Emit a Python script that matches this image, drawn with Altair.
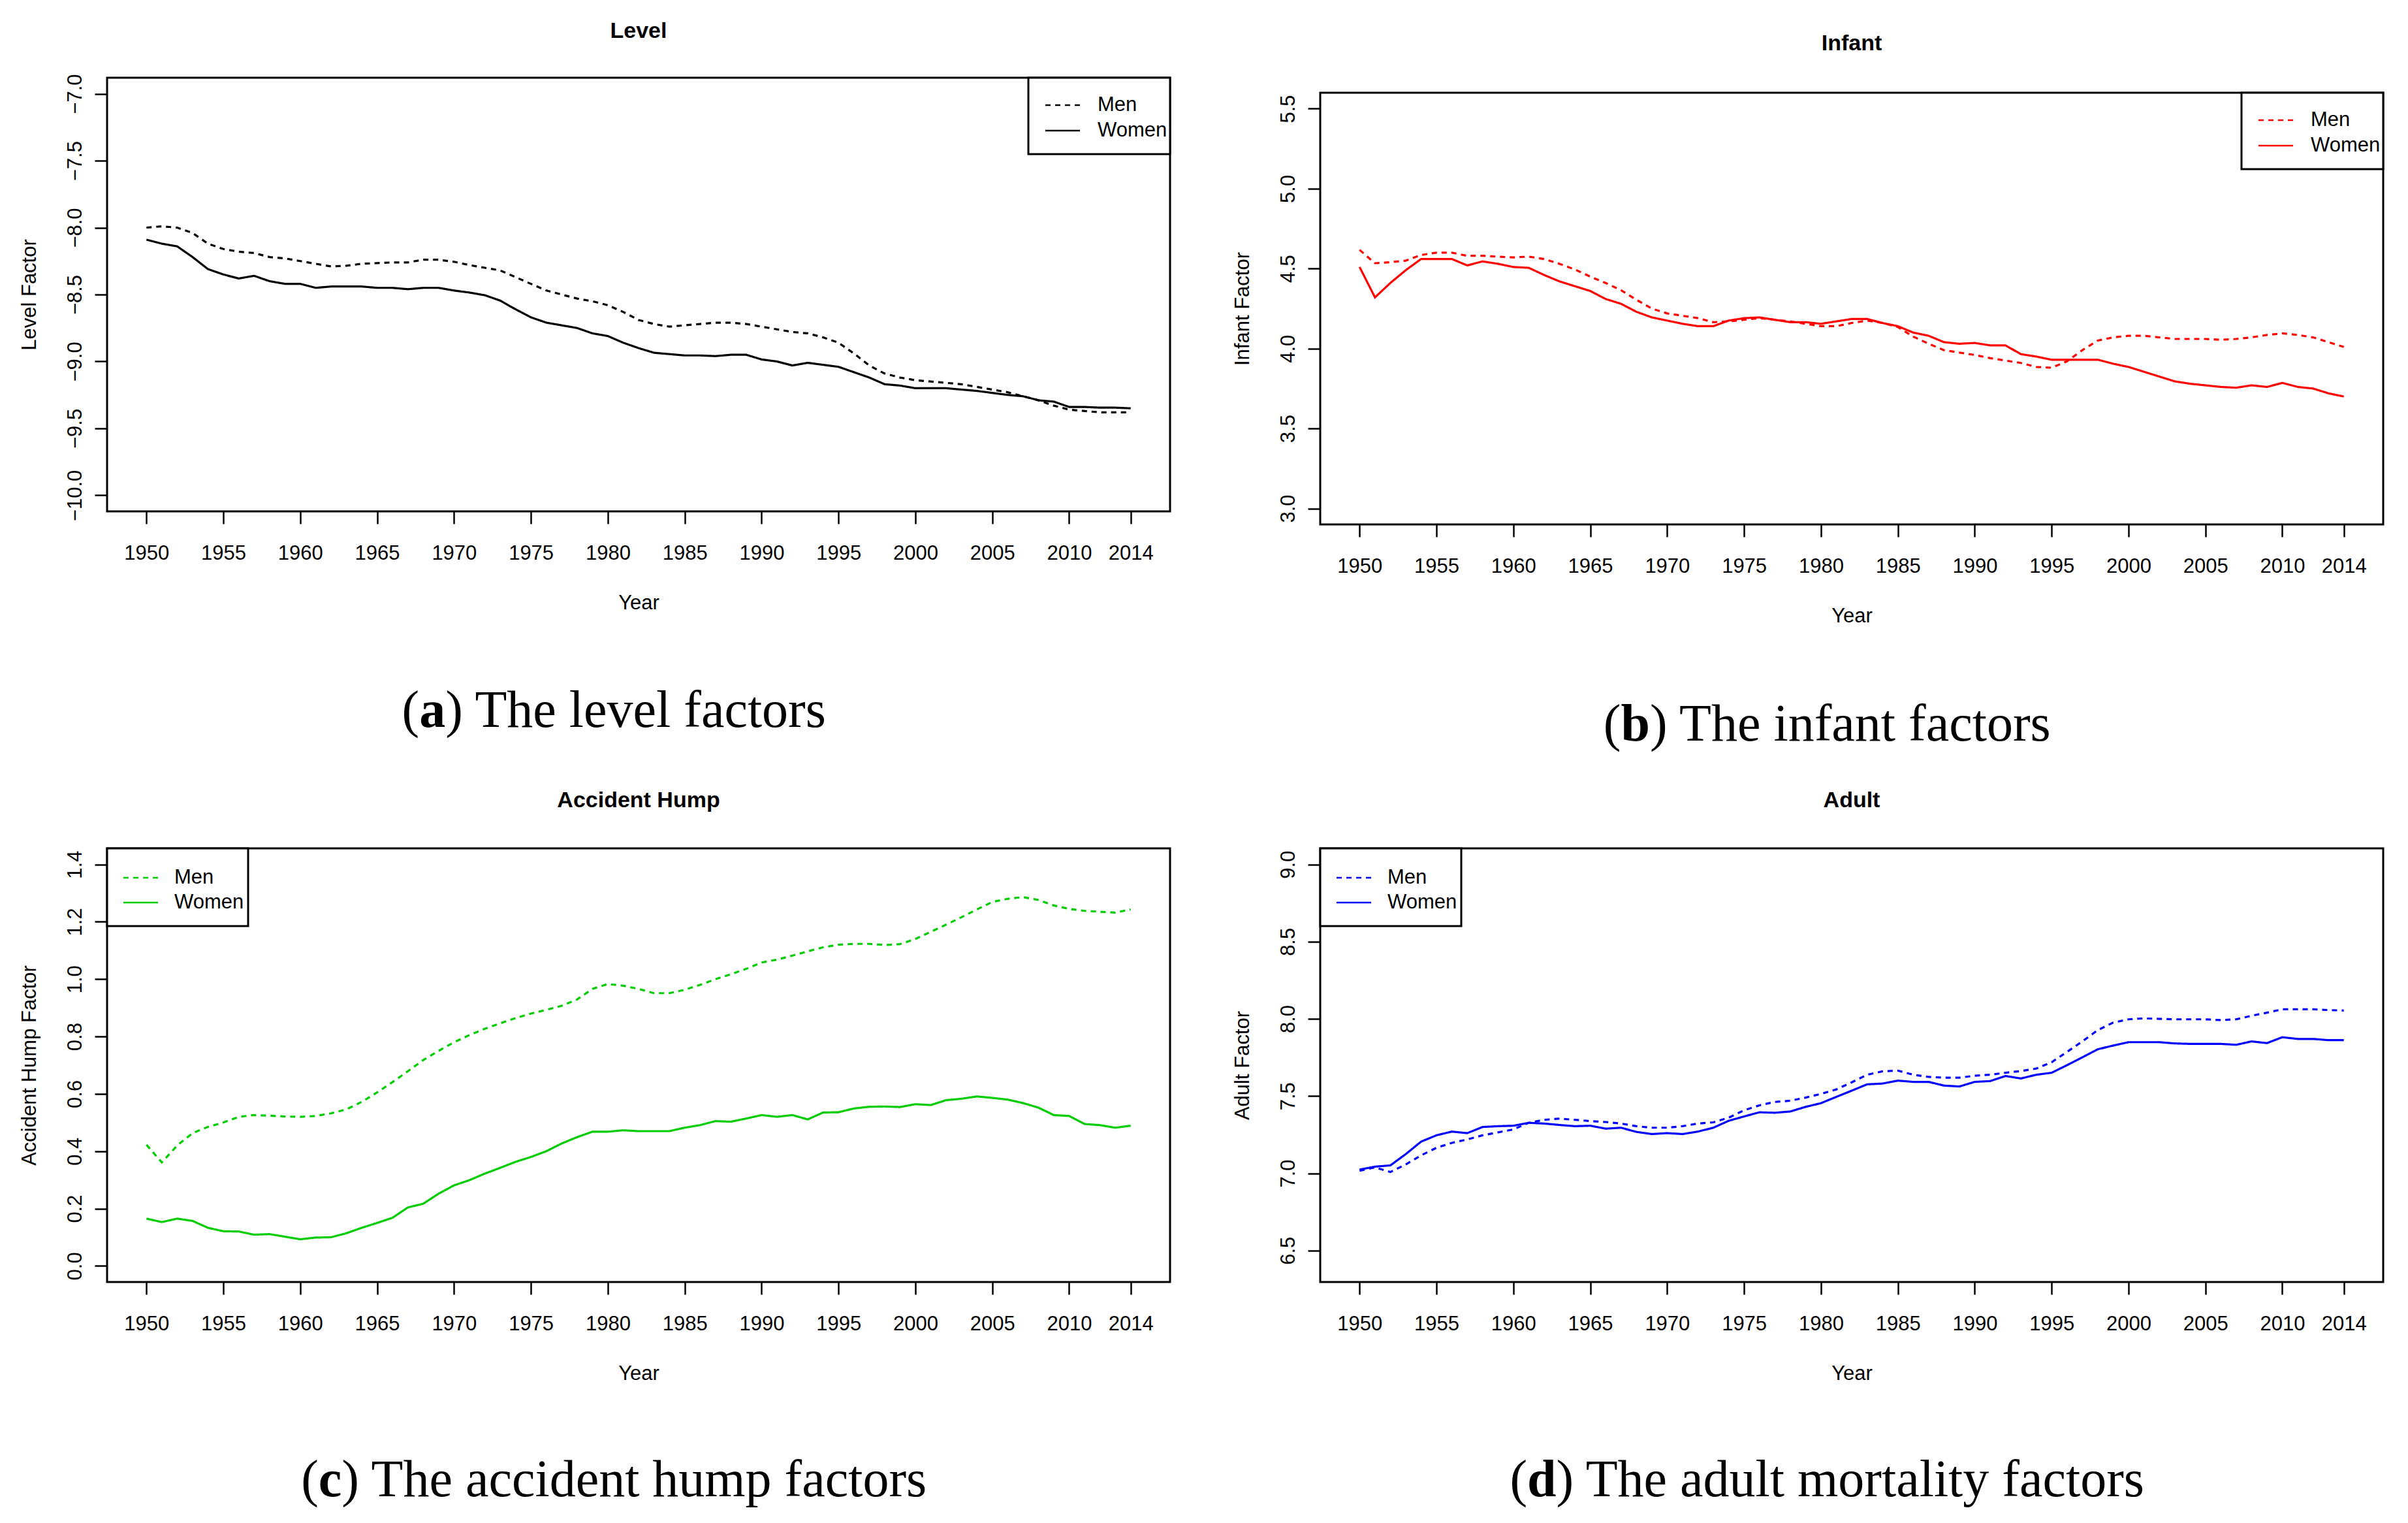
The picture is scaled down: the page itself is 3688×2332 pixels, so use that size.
import altair as alt
import pandas as pd

years = list(range(1950, 2015))
x_ticks = [1950, 1955, 1960, 1965, 1970, 1975, 1980, 1985, 1990, 1995, 2000, 2005, 2010, 2014]

level_men = [-8.00, -7.99, -8.00, -8.04, -8.12, -8.16, -8.18, -8.19, -8.22, -8.23,
             -8.25, -8.27, -8.29, -8.285, -8.27, -8.265, -8.26, -8.26, -8.24, -8.24,
             -8.255, -8.28, -8.30, -8.32, -8.37, -8.42, -8.47, -8.50, -8.53, -8.55,
             -8.58, -8.63, -8.69, -8.72, -8.74, -8.73, -8.72, -8.71, -8.71, -8.72,
             -8.74, -8.76, -8.78, -8.79, -8.82, -8.86, -8.94, -9.03, -9.09, -9.12,
             -9.14, -9.15, -9.16, -9.17, -9.19, -9.21, -9.23, -9.26, -9.29, -9.33,
             -9.36, -9.37, -9.38, -9.38, -9.38]
level_women = [-8.09, -8.12, -8.14, -8.22, -8.31, -8.35, -8.38, -8.36, -8.40, -8.42,
               -8.42, -8.45, -8.44, -8.44, -8.44, -8.45, -8.45, -8.46, -8.45, -8.45,
               -8.47, -8.485, -8.505, -8.545, -8.61, -8.67, -8.71, -8.73, -8.75, -8.79,
               -8.81, -8.86, -8.90, -8.935, -8.945, -8.955, -8.955, -8.96, -8.95, -8.95,
               -8.985, -9.00, -9.03, -9.01, -9.025, -9.04, -9.08, -9.12, -9.17, -9.18,
               -9.20, -9.20, -9.20, -9.21, -9.22, -9.235, -9.25, -9.26, -9.29, -9.30,
               -9.34, -9.34, -9.345, -9.345, -9.35]

infant_men = [4.617, 4.534, 4.54, 4.55, 4.585, 4.60, 4.60, 4.58, 4.58, 4.575,
              4.57, 4.575, 4.56, 4.53, 4.495, 4.45, 4.41, 4.365, 4.305, 4.25,
              4.22, 4.205, 4.19, 4.165, 4.17, 4.18, 4.19, 4.18, 4.17, 4.155,
              4.14, 4.14, 4.16, 4.175, 4.16, 4.135, 4.075, 4.03, 3.99, 3.975,
              3.96, 3.94, 3.925, 3.91, 3.885, 3.88, 3.92, 3.99, 4.05, 4.07,
              4.08, 4.08, 4.07, 4.06, 4.06, 4.06, 4.055, 4.06, 4.07, 4.085,
              4.095, 4.085, 4.07, 4.04, 4.01]
infant_women = [4.51, 4.32, 4.41, 4.49, 4.56, 4.56, 4.56, 4.52, 4.545, 4.53,
                4.51, 4.505, 4.46, 4.42, 4.39, 4.36, 4.31, 4.28, 4.23, 4.195,
                4.175, 4.155, 4.14, 4.14, 4.175, 4.19, 4.195, 4.18, 4.165, 4.165,
                4.155, 4.17, 4.185, 4.185, 4.16, 4.14, 4.10, 4.08, 4.04, 4.03,
                4.035, 4.02, 4.02, 3.965, 3.95, 3.93, 3.93, 3.93, 3.93, 3.905,
                3.885, 3.855, 3.825, 3.795, 3.78, 3.77, 3.76, 3.755, 3.77, 3.76,
                3.785, 3.76, 3.75, 3.72, 3.70]

hump_men = [0.4225, 0.361, 0.42, 0.463, 0.485, 0.50, 0.52, 0.526, 0.524, 0.521,
            0.52, 0.523, 0.532, 0.546, 0.572, 0.605, 0.641, 0.679, 0.718, 0.75,
            0.78, 0.805, 0.827, 0.846, 0.864, 0.88, 0.893, 0.907, 0.929, 0.966,
            0.983, 0.977, 0.966, 0.951, 0.951, 0.963, 0.98, 1.00, 1.017, 1.036,
            1.058, 1.068, 1.082, 1.097, 1.111, 1.12, 1.123, 1.123, 1.119, 1.122,
            1.14, 1.165, 1.19, 1.216, 1.243, 1.269, 1.28, 1.286, 1.276, 1.257,
            1.245, 1.238, 1.235, 1.232, 1.243]
hump_women = [0.165, 0.153, 0.165, 0.157, 0.133, 0.121, 0.12, 0.109, 0.111, 0.102,
              0.093, 0.099, 0.10, 0.114, 0.133, 0.15, 0.168, 0.204, 0.217, 0.252,
              0.281, 0.299, 0.322, 0.342, 0.363, 0.38, 0.40, 0.427, 0.449, 0.468,
              0.468, 0.473, 0.47, 0.47, 0.47, 0.482, 0.491, 0.505, 0.503, 0.514,
              0.526, 0.52, 0.526, 0.511, 0.535, 0.536, 0.549, 0.555, 0.556, 0.554,
              0.564, 0.561, 0.578, 0.583, 0.591, 0.586, 0.58, 0.568, 0.552, 0.526,
              0.523, 0.495, 0.491, 0.482, 0.489]

adult_men = [7.016, 7.038, 7.008, 7.057, 7.116, 7.165, 7.197, 7.219, 7.246, 7.265,
             7.284, 7.327, 7.346, 7.354, 7.346, 7.338, 7.332, 7.322, 7.305, 7.295,
             7.295, 7.305, 7.322, 7.33, 7.36, 7.408, 7.44, 7.462, 7.47, 7.49,
             7.514, 7.543, 7.589, 7.638, 7.66, 7.665, 7.638, 7.624, 7.619, 7.619,
             7.632, 7.638, 7.651, 7.662, 7.678, 7.719, 7.786, 7.854, 7.927, 7.976,
             7.997, 8.003, 8.0, 7.997, 7.997, 7.997, 7.992, 7.997, 8.02, 8.04,
             8.062, 8.062, 8.062, 8.057, 8.054]
adult_women = [7.024, 7.043, 7.051, 7.124, 7.205, 7.246, 7.27, 7.26, 7.30, 7.305,
               7.308, 7.327, 7.322, 7.313, 7.305, 7.308, 7.289, 7.295, 7.268, 7.254,
               7.26, 7.254, 7.27, 7.295, 7.34, 7.368, 7.395, 7.392, 7.40, 7.43,
               7.454, 7.495, 7.535, 7.576, 7.581, 7.60, 7.592, 7.592, 7.568, 7.562,
               7.592, 7.597, 7.63, 7.614, 7.638, 7.651, 7.70, 7.751, 7.803, 7.827,
               7.849, 7.849, 7.849, 7.841, 7.838, 7.838, 7.838, 7.832, 7.854, 7.843,
               7.881, 7.87, 7.87, 7.862, 7.862]

panel_titles = ["Level", "Infant", "Accident Hump", "Adult"]
y_titles = ["Level Factor", "Infant Factor", "Accident Hump Factor", "Adult Factor"]
colors = ["#000000", "#FF0000", "#00CD00", "#0000FF"]
y_domains = [[-10.12, -6.88], [2.9, 5.6], [-0.056, 1.456], [6.296, 9.104]]
y_ticks = [[-10.0, -9.5, -9.0, -8.5, -8.0, -7.5, -7.0],
           [3.0, 3.5, 4.0, 4.5, 5.0, 5.5],
           [0.0, 0.2, 0.4, 0.6, 0.8, 1.0, 1.2, 1.4],
           [6.5, 7.0, 7.5, 8.0, 8.5, 9.0]]
cap_letters = ["a", "b", "c", "d"]
cap_rest = [") The level factors", ") The infant factors",
            ") The accident hump factors", ") The adult mortality factors"]
# approximate em widths (Times metrics) of whole caption and of bold letter
cap_em = [8.136, 8.581, 11.996, 12.165]
bold_em = [0.5, 0.556, 0.444, 0.556]
series_names = ["Men", "Women"]

W = 1628
SANS = "Liberation Sans"
SERIF = "Liberation Serif"
FS = 31
CAP_FS = 80


def panel(i, men, women, top, height, legend_right, title_offset, cap_y):
    df = pd.DataFrame({
        "Year": years + years,
        "Value": men + women,
        "Sex": ["Men"] * len(years) + ["Women"] * len(years),
    })
    lines = alt.Chart(df).mark_line(color=colors[i], strokeWidth=3.2).encode(
        x=alt.X("Year:Q",
                scale=alt.Scale(domain=[1947.44, 2016.56], nice=False, zero=False),
                axis=alt.Axis(values=x_ticks, format="d", title="Year", grid=False,
                              domain=False, tickSize=19, tickWidth=2.5, tickColor="black",
                              labelPadding=30, labelFontSize=FS, labelFont=SANS,
                              labelColor="black", labelFlush=False, labelOverlap=False,
                              titleFont=SANS, titleFontSize=FS, titleFontWeight="normal",
                              titleColor="black", titlePadding=46)),
        y=alt.Y("Value:Q",
                scale=alt.Scale(domain=y_domains[i], nice=False, zero=False,
                                range=[height, top]),
                axis=alt.Axis(values=y_ticks[i], format=".1f", title=y_titles[i], grid=False,
                              domain=False, tickSize=19, tickWidth=2.5, tickColor="black",
                              labelAngle=270, labelAlign="center", labelBaseline="bottom",
                              labelPadding=14, labelFontSize=FS, labelFont=SANS,
                              labelColor="black", labelFlush=False, labelOverlap=False,
                              titleFont=SANS, titleFontSize=FS, titleFontWeight="normal",
                              titleColor="black", titlePadding=38)),
        strokeDash=alt.StrokeDash("Sex:N",
                                  scale=alt.Scale(domain=series_names, range=[[8, 7], [1, 0]]),
                                  legend=None),
    )

    one = pd.DataFrame({"k": [0]})
    frame = alt.Chart(one).mark_rect(fill="transparent", stroke="black", strokeWidth=3).encode(
        x=alt.value(0), x2=alt.value(W), y=alt.value(top), y2=alt.value(height))

    # legend box
    if legend_right:
        bx0, bx1, lx0, lx1, tx = W - 217, W, W - 191, W - 138, W - 111
        ly = [top + 42, top + 81]
        bh = 117
    else:
        bx0, bx1, lx0, lx1, tx = 0, 216, 25, 78, 103
        ly = [top + 45, top + 83]
        bh = 119
    box = alt.Chart(one).mark_rect(fill="white", stroke="black", strokeWidth=3).encode(
        x=alt.value(bx0), x2=alt.value(bx1), y=alt.value(top), y2=alt.value(top + bh))
    leg_men = alt.Chart(one).mark_rule(color=colors[i], strokeWidth=2.6, strokeDash=[8, 7]).encode(
        x=alt.value(lx0), x2=alt.value(lx1), y=alt.value(ly[0]))
    leg_women = alt.Chart(one).mark_rule(color=colors[i], strokeWidth=2.6).encode(
        x=alt.value(lx0), x2=alt.value(lx1), y=alt.value(ly[1]))
    leg_txt = alt.Chart(pd.DataFrame({"t": series_names, "yy": ly})).mark_text(
        align="left", baseline="middle", font=SANS, fontSize=FS, color="black").encode(
        x=alt.value(tx), y=alt.Y("yy:Q", scale=None), text="t:N")

    # caption
    cx = 777
    start = cx - cap_em[i] * CAP_FS / 2
    xa = start + 0.333 * CAP_FS
    cap_open = alt.Chart(pd.DataFrame({"t": ["("]})).mark_text(
        align="right", baseline="middle", font=SERIF, fontSize=CAP_FS, color="black").encode(
        x=alt.value(xa), y=alt.value(cap_y), text="t:N")
    cap_bold = alt.Chart(pd.DataFrame({"t": [cap_letters[i]]})).mark_text(
        align="left", baseline="middle", font=SERIF, fontSize=CAP_FS, fontWeight="bold",
        color="black").encode(x=alt.value(xa), y=alt.value(cap_y), text="t:N")
    cap_tail = alt.Chart(pd.DataFrame({"t": [cap_rest[i]]})).mark_text(
        align="left", baseline="middle", font=SERIF, fontSize=CAP_FS, color="black").encode(
        x=alt.value(xa + bold_em[i] * CAP_FS), y=alt.value(cap_y), text="t:N")

    return alt.layer(frame, lines, box, leg_men, leg_women, leg_txt,
                     cap_open, cap_bold, cap_tail).properties(
        width=W, height=height,
        title=alt.TitleParams(panel_titles[i], font=SANS, fontSize=34, fontWeight="bold",
                              color="black", anchor="middle", frame="group",
                              offset=title_offset),
    )


p_level = panel(0, level_men, level_women, 0, 664, True, 48, 970)
p_infant = panel(1, infant_men, infant_women, 23, 684, True, 35, 991)
p_hump = panel(2, hump_men, hump_women, 0, 664, False, 55, 968)
p_adult = panel(3, adult_men, adult_women, 0, 664, False, 55, 968)

chart = alt.concat(p_level, p_infant, p_hump, p_adult, columns=2,
                   spacing={"row": 496, "column": 230}, bounds="flush",
                   background="white",
                   padding={"left": 20, "top": 22, "right": 5, "bottom": 5}).configure_view(
    stroke="transparent", strokeWidth=0)

chart.save("out.html", embed_options={"renderer": "svg", "actions": False})
